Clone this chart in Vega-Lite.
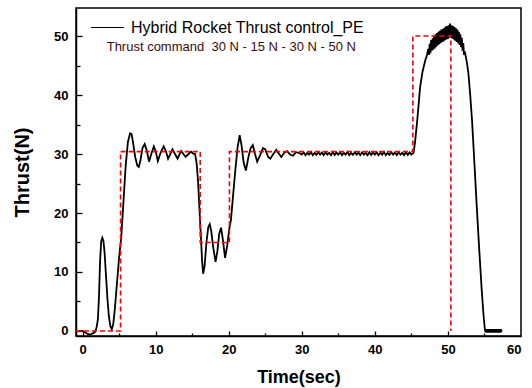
{
  "$schema": "https://vega.github.io/schema/vega-lite/v6.json",
  "width": 445,
  "height": 328,
  "autosize": {"type": "none"},
  "padding": {"left": 76, "top": 8, "right": 11, "bottom": 52},
  "background": "white",
  "config": {
    "view": {"stroke": "black", "strokeWidth": 1.5},
    "font": "Liberation Sans",
    "axis": {
      "grid": false,
      "zindex": 1,
      "domainColor": "black",
      "domainWidth": 1.5,
      "tickColor": "black",
      "tickWidth": 1.3,
      "labelFont": "Liberation Sans",
      "labelFontWeight": "bold",
      "labelFontSize": 13,
      "labelColor": "black",
      "titleFont": "Liberation Sans",
      "titleFontWeight": "bold",
      "titleFontSize": 18,
      "titleColor": "black"
    }
  },
  "datasets": {
    "thrust": [
      {"t": -0.5, "f": 0}, {"t": 0, "f": 0}, {"t": 0.3, "f": -0.2}, {"t": 0.7, "f": -0.5}, {"t": 1.0, "f": -0.6}, {"t": 1.4, "f": -0.4}, {"t": 1.7, "f": -0.2}, {"t": 1.9, "f": 0.5}, {"t": 2.1, "f": 2}, {"t": 2.25, "f": 6}, {"t": 2.4, "f": 12}, {"t": 2.55, "f": 15.2}, {"t": 2.7, "f": 15.8}, {"t": 2.85, "f": 15.3}, {"t": 3.0, "f": 13.5}, {"t": 3.2, "f": 9.5}, {"t": 3.4, "f": 5.5}, {"t": 3.6, "f": 2.5}, {"t": 3.8, "f": 0.8}, {"t": 4.0, "f": 0.3}, {"t": 4.2, "f": 1.2}, {"t": 4.4, "f": 3.5}, {"t": 4.6, "f": 6.5}, {"t": 4.8, "f": 9.5}, {"t": 5.0, "f": 12.5}, {"t": 5.3, "f": 16}, {"t": 5.6, "f": 22}, {"t": 5.9, "f": 28}, {"t": 6.2, "f": 32}, {"t": 6.5, "f": 33.5}, {"t": 6.7, "f": 33.4}, {"t": 6.9, "f": 32}, {"t": 7.2, "f": 29.5}, {"t": 7.5, "f": 28}, {"t": 7.7, "f": 27.8}, {"t": 7.9, "f": 28.8}, {"t": 8.2, "f": 31}, {"t": 8.5, "f": 31.7}, {"t": 8.8, "f": 30.5}, {"t": 9.1, "f": 28.7}, {"t": 9.4, "f": 30}, {"t": 9.75, "f": 31.3}, {"t": 10.0, "f": 30.5}, {"t": 10.3, "f": 28.8}, {"t": 10.7, "f": 30.3}, {"t": 11.1, "f": 31.3}, {"t": 11.4, "f": 30.5}, {"t": 11.7, "f": 29.2}, {"t": 12.0, "f": 30}, {"t": 12.3, "f": 30.8}, {"t": 12.65, "f": 30}, {"t": 13.0, "f": 29.2}, {"t": 13.25, "f": 29.9}, {"t": 13.5, "f": 30.5}, {"t": 13.8, "f": 30}, {"t": 14.1, "f": 29.5}, {"t": 14.5, "f": 30}, {"t": 14.85, "f": 30.4}, {"t": 15.1, "f": 30.1}, {"t": 15.4, "f": 30}, {"t": 15.6, "f": 28.5}, {"t": 15.8, "f": 25.5}, {"t": 16.0, "f": 20.5}, {"t": 16.2, "f": 15.9}, {"t": 16.35, "f": 12}, {"t": 16.5, "f": 9.7}, {"t": 16.7, "f": 11}, {"t": 16.95, "f": 15}, {"t": 17.2, "f": 17.6}, {"t": 17.4, "f": 18.1}, {"t": 17.6, "f": 17}, {"t": 17.9, "f": 14}, {"t": 18.2, "f": 11.7}, {"t": 18.45, "f": 13.5}, {"t": 18.7, "f": 16.5}, {"t": 18.95, "f": 17.5}, {"t": 19.2, "f": 15.5}, {"t": 19.5, "f": 12.4}, {"t": 19.8, "f": 14.5}, {"t": 20.1, "f": 17.5}, {"t": 20.3, "f": 18.8}, {"t": 20.6, "f": 23}, {"t": 20.9, "f": 27.2}, {"t": 21.2, "f": 31}, {"t": 21.5, "f": 33.2}, {"t": 21.75, "f": 31.5}, {"t": 22.05, "f": 28.5}, {"t": 22.35, "f": 27.2}, {"t": 22.7, "f": 29.5}, {"t": 23.0, "f": 31}, {"t": 23.3, "f": 31.5}, {"t": 23.6, "f": 30}, {"t": 23.9, "f": 28.7}, {"t": 24.3, "f": 29.8}, {"t": 24.7, "f": 31}, {"t": 25.0, "f": 30.8}, {"t": 25.4, "f": 29.5}, {"t": 25.7, "f": 29.2}, {"t": 26.1, "f": 30}, {"t": 26.5, "f": 30.7}, {"t": 26.9, "f": 30}, {"t": 27.2, "f": 29.5}, {"t": 27.6, "f": 30.2}, {"t": 28.0, "f": 30.5}, {"t": 28.4, "f": 29.9}, {"t": 28.8, "f": 29.7}, {"t": 29.2, "f": 30.3}, {"t": 29.6, "f": 30.2}, {"t": 30.0, "f": 29.9},
      {"t": 30.25, "f": 30.3}, {"t": 30.5, "f": 29.8}, {"t": 30.75, "f": 30.2}, {"t": 31.0, "f": 29.9}, {"t": 31.25, "f": 30.35}, {"t": 31.5, "f": 29.8}, {"t": 31.75, "f": 30.2}, {"t": 32.0, "f": 29.85}, {"t": 32.25, "f": 30.3}, {"t": 32.5, "f": 29.9}, {"t": 32.75, "f": 30.25}, {"t": 33.0, "f": 29.8}, {"t": 33.25, "f": 30.3}, {"t": 33.5, "f": 29.9}, {"t": 33.75, "f": 30.2}, {"t": 34.0, "f": 29.8}, {"t": 34.25, "f": 30.3}, {"t": 34.5, "f": 29.85}, {"t": 34.75, "f": 30.25}, {"t": 35.0, "f": 29.9}, {"t": 35.25, "f": 30.3}, {"t": 35.5, "f": 29.8}, {"t": 35.75, "f": 30.2}, {"t": 36.0, "f": 29.9}, {"t": 36.25, "f": 30.35}, {"t": 36.5, "f": 29.8}, {"t": 36.75, "f": 30.2}, {"t": 37.0, "f": 29.85}, {"t": 37.25, "f": 30.3}, {"t": 37.5, "f": 29.9}, {"t": 37.75, "f": 30.25}, {"t": 38.0, "f": 29.8}, {"t": 38.25, "f": 30.3}, {"t": 38.5, "f": 29.9}, {"t": 38.75, "f": 30.2}, {"t": 39.0, "f": 29.8}, {"t": 39.25, "f": 30.3}, {"t": 39.5, "f": 29.85}, {"t": 39.75, "f": 30.25}, {"t": 40.0, "f": 29.9}, {"t": 40.25, "f": 30.3}, {"t": 40.5, "f": 29.8}, {"t": 40.75, "f": 30.2}, {"t": 41.0, "f": 29.9}, {"t": 41.25, "f": 30.35}, {"t": 41.5, "f": 29.8}, {"t": 41.75, "f": 30.2}, {"t": 42.0, "f": 29.85}, {"t": 42.25, "f": 30.3}, {"t": 42.5, "f": 29.9}, {"t": 42.75, "f": 30.25}, {"t": 43.0, "f": 29.8}, {"t": 43.25, "f": 30.3}, {"t": 43.5, "f": 29.9}, {"t": 43.75, "f": 30.2}, {"t": 44.0, "f": 29.8}, {"t": 44.25, "f": 30.3}, {"t": 44.5, "f": 29.85}, {"t": 44.75, "f": 30.25}, {"t": 45.0, "f": 29.9},
      {"t": 45.3, "f": 30.2}, {"t": 45.5, "f": 32}, {"t": 45.8, "f": 35.7}, {"t": 46.2, "f": 41.4}, {"t": 46.5, "f": 43.8}, {"t": 46.9, "f": 45.9}, {"t": 47.1, "f": 46.6},
      {"t": 47.3, "f": 47.8}, {"t": 47.4, "f": 46.8}, {"t": 47.5, "f": 48.7}, {"t": 47.6, "f": 47.1}, {"t": 47.7, "f": 49.3}, {"t": 47.8, "f": 47.5}, {"t": 47.9, "f": 49.6}, {"t": 48.0, "f": 47.7}, {"t": 48.1, "f": 50.0}, {"t": 48.2, "f": 47.9}, {"t": 48.3, "f": 50.3}, {"t": 48.4, "f": 48.2}, {"t": 48.5, "f": 50.5}, {"t": 48.6, "f": 48.4}, {"t": 48.7, "f": 50.7}, {"t": 48.8, "f": 48.6}, {"t": 48.9, "f": 50.9}, {"t": 49.0, "f": 48.8}, {"t": 49.1, "f": 51.1}, {"t": 49.2, "f": 49.0}, {"t": 49.3, "f": 51.2}, {"t": 49.4, "f": 49.1}, {"t": 49.5, "f": 51.4}, {"t": 49.6, "f": 49.3}, {"t": 49.7, "f": 51.6}, {"t": 49.8, "f": 49.4}, {"t": 49.9, "f": 51.7}, {"t": 50.0, "f": 49.5}, {"t": 50.1, "f": 51.8}, {"t": 50.2, "f": 49.7}, {"t": 50.3, "f": 52.1}, {"t": 50.4, "f": 49.7}, {"t": 50.5, "f": 51.8}, {"t": 50.6, "f": 49.6}, {"t": 50.7, "f": 51.7}, {"t": 50.8, "f": 49.4}, {"t": 50.9, "f": 51.5}, {"t": 51.0, "f": 49.2}, {"t": 51.1, "f": 51.3}, {"t": 51.2, "f": 49.0}, {"t": 51.3, "f": 51.1}, {"t": 51.4, "f": 48.8}, {"t": 51.5, "f": 50.7}, {"t": 51.6, "f": 48.5}, {"t": 51.7, "f": 50.3}, {"t": 51.8, "f": 48.1}, {"t": 51.9, "f": 49.7}, {"t": 52.0, "f": 47.5}, {"t": 52.1, "f": 48.8}, {"t": 52.2, "f": 46.8}, {"t": 52.3, "f": 47.4},
      {"t": 52.6, "f": 45.5}, {"t": 52.8, "f": 43.7}, {"t": 53.05, "f": 40}, {"t": 53.3, "f": 35.7}, {"t": 53.6, "f": 29}, {"t": 53.95, "f": 21}, {"t": 54.3, "f": 13.5}, {"t": 54.6, "f": 7.4}, {"t": 54.85, "f": 3}, {"t": 55.05, "f": 0.3},
      {"t": 55.15, "f": -0.2}, {"t": 55.25, "f": 0.3}, {"t": 55.35, "f": -0.25}, {"t": 55.45, "f": 0.3}, {"t": 55.55, "f": -0.25}, {"t": 55.65, "f": 0.3}, {"t": 55.75, "f": -0.25}, {"t": 55.85, "f": 0.3}, {"t": 55.95, "f": -0.25}, {"t": 56.05, "f": 0.3}, {"t": 56.15, "f": -0.25}, {"t": 56.25, "f": 0.3}, {"t": 56.35, "f": -0.25}, {"t": 56.45, "f": 0.3}, {"t": 56.55, "f": -0.25}, {"t": 56.65, "f": 0.3}, {"t": 56.75, "f": -0.25}, {"t": 56.85, "f": 0.3}, {"t": 56.95, "f": -0.25}, {"t": 57.05, "f": 0.3}, {"t": 57.15, "f": -0.25}, {"t": 57.25, "f": 0.3}, {"t": 57.35, "f": -0.2}
    ],
    "command": [
      {"i": 0, "t": -0.9, "f": 0}, {"i": 1, "t": 5.2, "f": 0}, {"i": 2, "t": 5.2, "f": 30.4}, {"i": 3, "t": 16.1, "f": 30.4}, {"i": 4, "t": 16.1, "f": 15}, {"i": 5, "t": 20.1, "f": 15}, {"i": 6, "t": 20.1, "f": 30.4}, {"i": 7, "t": 45.2, "f": 30.4}, {"i": 8, "t": 45.2, "f": 50}, {"i": 9, "t": 50.4, "f": 50}, {"i": 10, "t": 50.4, "f": 0}
    ],
    "note": [
      {"t": 3.3, "f": 47.5, "label": "Thrust command\u00a0 30 N - 15 N - 30 N - 50 N"}
    ]
  },
  "layer": [
    {
      "data": {"name": "thrust"},
      "transform": [{"calculate": "'Hybrid Rocket Thrust control_PE'", "as": "series"}],
      "mark": {"type": "line", "strokeWidth": 1.8, "interpolate": "linear"},
      "encoding": {
        "x": {
          "field": "t", "type": "quantitative",
          "scale": {"domain": [-0.9, 60], "nice": false, "zero": false},
          "axis": {
            "orient": "bottom",
            "title": "Time(sec)",
            "values": [0, 10, 20, 30, 40, 50, 60],
            "ticks": false,
            "labelPadding": 7,
            "titlePadding": 12
          }
        },
        "y": {
          "field": "f", "type": "quantitative",
          "scale": {"domain": [-0.85, 54.75], "nice": false, "zero": false},
          "axis": {
            "orient": "left",
            "title": "Thrust(N)",
            "titleFontSize": 20,
            "values": [0, 10, 20, 30, 40, 50],
            "ticks": false,
            "labelPadding": 8,
            "titlePadding": 21
          }
        },
        "color": {
          "field": "series", "type": "nominal",
          "scale": {"range": ["black"]},
          "legend": {
            "orient": "none", "legendX": 14, "legendY": 2, "title": null,
            "symbolType": "stroke", "symbolSize": 1100, "symbolStrokeWidth": 1,
            "labelFont": "Liberation Sans", "labelFontSize": 16, "labelColor": "black",
            "labelLimit": 0, "labelOffset": 6, "padding": 0
          }
        }
      }
    },
    {
      "data": {"name": "command"},
      "mark": {"type": "line", "color": "#ff0000", "strokeWidth": 1.6, "strokeDash": [5, 3]},
      "encoding": {
        "x": {
          "field": "t", "type": "quantitative",
          "scale": {"domain": [-0.9, 60], "nice": false, "zero": false},
          "axis": {
            "orient": "bottom",
            "title": null,
            "values": [0, 10, 20, 30, 40, 50],
            "labels": false,
            "domain": false,
            "offset": -5,
            "tickSize": 5
          }
        },
        "y": {
          "field": "f", "type": "quantitative",
          "scale": {"domain": [-0.85, 54.75], "nice": false, "zero": false},
          "axis": {
            "orient": "left",
            "title": null,
            "values": [0, 10, 20, 30, 40, 50],
            "labels": false,
            "domain": false,
            "offset": -6,
            "tickSize": 6
          }
        },
        "order": {"field": "i", "type": "quantitative"}
      }
    },
    {
      "data": {"name": "note"},
      "mark": {"type": "text", "align": "left", "baseline": "alphabetic", "font": "Liberation Sans", "fontSize": 13, "color": "#3a0c10"},
      "encoding": {
        "x": {
          "field": "t", "type": "quantitative",
          "scale": {"domain": [-0.9, 60], "nice": false, "zero": false},
          "axis": {
            "orient": "bottom",
            "title": null,
            "values": [5, 15, 25, 35, 45, 55],
            "labels": false,
            "domain": false,
            "offset": -3,
            "tickSize": 3
          }
        },
        "y": {
          "field": "f", "type": "quantitative",
          "scale": {"domain": [-0.85, 54.75], "nice": false, "zero": false},
          "axis": {
            "orient": "left",
            "title": null,
            "values": [5, 15, 25, 35, 45],
            "labels": false,
            "domain": false,
            "offset": -4,
            "tickSize": 4
          }
        },
        "text": {"field": "label"}
      }
    }
  ],
  "resolve": {"axis": {"x": "independent", "y": "independent"}}
}
